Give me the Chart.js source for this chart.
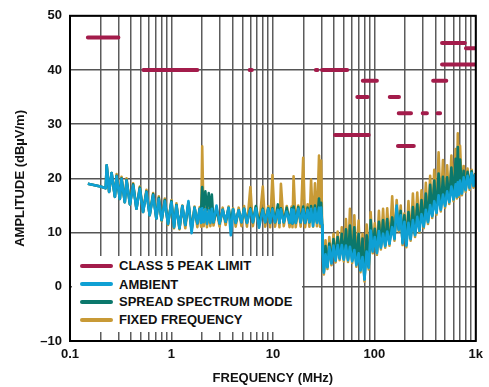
<!DOCTYPE html>
<html>
<head>
<meta charset="utf-8">
<script src="https://cdn.jsdelivr.net/npm/chart.js@4.4.1/dist/chart.umd.min.js"></script>
<style>
  html, body { margin: 0; padding: 0; background: #fff; }
  #wrap { position: relative; width: 489px; height: 387px; }
  #legend { position: absolute; left: 72px; top: 256px; width: 230px; height: 76px; background: #fff;
    font: bold 13px 'Liberation Sans', Arial, sans-serif; color: #111; }
  #legend div { position: absolute; left: 8px; height: 18px; line-height: 18px; white-space: nowrap; }
  #legend span { display: inline-block; width: 33px; height: 4px; border-radius: 2px;
    vertical-align: middle; margin-right: 6px; position: relative; top: -1px; }
</style>
</head>
<body>
<div id="wrap">
  <canvas id="emi_chart" width="489" height="387"></canvas>
  <div id="legend"></div>
</div>
<script>
// 주파수 (MHz)
const freq = [
  0.15, 0.18, 0.2, 0.225, 0.23, 0.243, 0.257, 0.277, 0.288, 0.31,
  0.322, 0.347, 0.361, 0.39, 0.419, 0.452, 0.488, 0.525, 0.567, 0.61,
  0.66, 0.71, 0.75, 0.8, 0.86, 0.925, 1.0, 1.06, 1.12, 1.2,
  1.28, 1.37, 1.47, 1.58, 1.69, 1.8, 1.9, 1.96, 2.01, 2.08,
  2.16, 2.24, 2.33, 2.42, 2.5, 2.6, 2.78, 2.98, 3.2, 3.42,
  3.66, 3.85, 4.05, 4.3, 4.6, 4.9, 5.2, 5.55, 6.0, 6.35,
  6.8, 7.3, 7.95, 8.4, 9.0, 9.4, 9.9, 10.5, 11.2, 11.6,
  12.0, 12.8, 13.7, 14.6, 15.3, 15.6, 16.0, 16.8, 17.8, 18.8,
  19.9, 20.8, 22.0, 22.9, 23.8, 24.9, 26.0, 27.2, 28.5, 29.2,
  29.9, 30.6, 31.0, 31.8, 33.0, 34.5, 36.0, 37.8, 39.6, 41.5,
  43.5, 45.5, 47.8, 50, 52.5, 55, 57.5, 60.5, 63.5, 66.5,
  70, 73, 76.5, 80, 84, 88, 92, 96.5, 101, 106,
  111, 116, 122, 128, 134, 141, 150, 158, 166, 174,
  182, 190, 198, 207, 217, 228, 240, 252, 265, 278,
  292, 307, 322, 338, 355, 372, 390, 410, 430, 452,
  475, 498, 522, 548, 575, 603, 633, 650, 665, 682,
  700, 730, 760, 795, 830, 870, 910, 950, 990
];

// AMBIENT (dBµV/m)
const ambient = [
  19.0, 18.7, 18.5, 18.2, 22.4, 17.5, 21.0, 16.6, 20.4, 16.2,
  19.9, 15.6, 19.6, 15.2, 18.7, 14.4, 18.1, 13.8, 17.5, 13.2,
  16.9, 12.6, 16.2, 12.3, 15.8, 11.6, 15.6, 11.0, 15.0, 10.8,
  14.9, 11.4, 15.8, 9.9, 14.6, 11.7, 14.4, 11.8, 14.5, 11.9,
  14.3, 11.6, 14.1, 11.8, 14.4, 11.9, 15.0, 11.7, 14.2, 12.0,
  14.6, 9.5, 14.3, 11.8, 14.1, 11.9, 14.4, 11.8, 14.3, 11.9,
  14.5, 10.9, 14.2, 11.9, 14.4, 11.8, 14.3, 11.9, 14.2, 11.8,
  14.3, 11.9, 13.9, 11.8, 14.3, 11.7, 14.2, 11.8, 14.4, 11.9,
  14.3, 11.8, 14.2, 11.9, 14.4, 11.2, 14.5, 11.8, 14.6, 11.7,
  14.6, 11.3, 6.0, 2.6, 6.0, 3.6, 7.4, 4.3, 7.6, 4.8,
  7.7, 5.2, 7.7, 5.0, 7.6, 4.9, 7.4, 4.7, 6.8, 4.0,
  6.2, 3.0, 5.5, 1.3, 6.5, 3.5, 10.4, 6.5, 9.2, 6.2,
  10.3, 7.2, 9.8, 7.5, 10.2, 7.9, 11.0, 8.8, 15.0, 10.5,
  13.2, 8.0, 12.0, 7.6, 11.8, 8.8, 12.3, 9.5, 12.9, 10.3,
  13.4, 11.1, 14.2, 11.9, 15.1, 13.0, 15.8, 13.6, 16.9, 14.2,
  17.0, 14.9, 17.6, 15.6, 18.5, 16.1, 18.9, 16.6, 19.3, 16.9,
  19.6, 17.2, 20.2, 17.8, 20.5, 18.2, 21.0, 18.6, 20.8
];

// SPREAD SPECTRUM MODE
const spread = [
  19.0, 18.7, 18.5, 18.2, 22.4, 17.5, 21.0, 16.6, 20.5, 16.2,
  20.0, 15.6, 19.7, 15.2, 18.9, 14.4, 18.3, 13.8, 17.6, 13.2,
  17.1, 12.6, 16.4, 12.3, 16.0, 11.6, 15.8, 11.0, 15.1, 10.8,
  14.9, 11.4, 15.4, 10.5, 14.6, 11.7, 14.4, 14.0, 18.4, 14.6,
  17.6, 14.2, 17.3, 14.0, 17.0, 11.9, 14.3, 11.7, 14.2, 12.0,
  14.5, 11.8, 14.3, 11.8, 14.1, 11.9, 14.4, 11.8, 14.5, 11.9,
  14.9, 11.7, 14.4, 11.9, 14.5, 11.8, 14.5, 11.9, 15.2, 11.8,
  14.5, 11.9, 14.6, 11.8, 14.5, 11.7, 14.8, 11.8, 14.7, 11.9,
  14.8, 11.8, 14.6, 11.9, 14.9, 11.9, 15.0, 12.0, 16.3, 12.5,
  15.5, 11.3, 7.0, 2.8, 7.5, 3.8, 8.0, 4.5, 8.8, 5.0,
  9.2, 5.4, 9.8, 5.2, 10.6, 5.1, 11.3, 4.9, 11.0, 4.2,
  9.8, 3.2, 8.9, 1.5, 9.5, 3.7, 12.3, 6.7, 10.7, 6.4,
  12.0, 7.4, 12.3, 7.7, 12.5, 8.1, 12.8, 9.0, 14.4, 10.7,
  14.0, 8.2, 13.2, 7.8, 13.8, 9.0, 14.7, 9.7, 15.2, 10.5,
  16.0, 11.3, 17.2, 12.1, 18.8, 13.2, 19.6, 13.8, 20.9, 14.4,
  20.3, 15.1, 20.2, 15.8, 22.0, 16.3, 23.6, 16.8, 25.8, 17.1,
  23.5, 17.4, 21.4, 18.0, 21.2, 18.4, 21.3, 18.8, 20.9
];

// FIXED FREQUENCY
const fixedFreq = [
  19.0, 18.7, 18.5, 18.2, 22.4, 17.5, 21.0, 16.6, 20.8, 16.2,
  20.3, 15.6, 20.0, 15.2, 19.1, 14.4, 18.5, 13.8, 17.9, 13.2,
  17.3, 12.6, 16.7, 12.1, 16.3, 11.4, 16.0, 10.8, 15.4, 10.6,
  15.0, 10.8, 15.6, 10.5, 14.8, 11.0, 14.7, 11.1, 25.9, 11.2,
  14.6, 11.0, 14.4, 11.2, 14.6, 11.3, 14.7, 11.1, 14.6, 11.4,
  14.8, 11.0, 14.5, 11.1, 14.6, 11.2, 14.9, 11.1, 18.4, 11.2,
  14.8, 11.0, 18.5, 11.1, 14.9, 11.0, 20.6, 11.1, 14.6, 11.0,
  19.0, 11.2, 14.9, 11.0, 14.8, 11.0, 20.4, 11.0, 15.0, 11.1,
  23.8, 11.0, 15.2, 11.1, 19.8, 11.1, 19.1, 11.2, 24.2, 11.1,
  23.3, 10.9, 8.0, 2.3, 8.6, 3.3, 9.2, 4.0, 9.8, 4.5,
  10.2, 4.9, 11.0, 4.7, 12.5, 4.6, 14.4, 4.4, 13.2, 3.7,
  12.2, 2.7, 9.8, 1.0, 11.5, 3.2, 13.8, 6.2, 11.7, 5.9,
  14.0, 6.9, 14.4, 7.2, 14.5, 7.6, 16.7, 8.5, 16.0, 10.2,
  15.0, 7.7, 13.5, 7.3, 15.8, 8.5, 17.2, 9.2, 17.4, 10.0,
  17.8, 10.8, 19.2, 11.6, 20.5, 12.7, 21.6, 13.3, 24.8, 13.9,
  23.4, 14.6, 22.4, 15.3, 24.2, 15.8, 25.4, 16.3, 28.3, 16.6,
  26.0, 16.9, 22.3, 17.5, 21.8, 17.9, 21.6, 18.3, 21.0
];

// CLASS 5 PEAK LIMIT 구간
const limitStart = [0.15, 0.53, 5.9, 26.5, 30.5, 41, 68, 77, 142, 174, 171, 300, 420, 380, 465, 465, 800];
const limitEnd   = [0.30, 1.8, 6.2, 27.5, 54, 88, 86, 106, 175, 230, 245, 330, 445, 512, 1000, 780, 1000];
const limitLevel = [46, 40, 40, 40, 40, 28, 35, 38, 35, 32, 26, 32, 32, 38, 41, 45, 44];

// 축 눈금
const xTickValues = [0.1, 1, 10, 100, 1000];
const xTickLabels = ['0.1', '1', '10', '100', '1k'];
const yMin = -10, yMax = 50, yStep = 10;

const seriesNames = ['CLASS 5 PEAK LIMIT', 'AMBIENT', 'SPREAD SPECTRUM MODE', 'FIXED FREQUENCY'];
const seriesColors = ['#a31c4b', '#0fa0d4', '#0b786c', '#c89a36'];

const FONT = "'Liberation Sans', Arial, sans-serif";

function toPoints(values) {
  return freq.map(function(f, i){ return {x: f, y: values[i]}; });
}

let limitPoints = [];
limitStart.forEach(function(s, i){
  limitPoints.push({x: s, y: limitLevel[i]});
  limitPoints.push({x: limitEnd[i], y: limitLevel[i]});
  limitPoints.push({x: limitEnd[i], y: null});
});

function traceSet(label, values, color, order){
  return {
    label: label,
    data: toPoints(values),
    borderColor: color,
    backgroundColor: color,
    borderWidth: 2.6,
    borderJoinStyle: 'round',
    pointRadius: 0,
    tension: 0,
    order: order
  };
}

// 테두리
const framePlugin = {
  id: 'frame',
  afterDatasetsDraw(chart){
    const {ctx, chartArea: a} = chart;
    ctx.save();
    ctx.strokeStyle = '#000';
    ctx.lineWidth = 2;
    ctx.strokeRect(a.left, a.top, a.right - a.left, a.bottom - a.top);
    ctx.restore();
  }
};

const emiChart = new Chart(document.getElementById('emi_chart'), {
  type: 'line',
  data: {
    datasets: [
      {
        label: seriesNames[0],
        data: limitPoints,
        borderColor: seriesColors[0],
        borderWidth: 4,
        borderCapStyle: 'round',
        pointRadius: 0,
        spanGaps: false,
        order: 0
      },
      traceSet(seriesNames[1], ambient, seriesColors[1], 1),
      traceSet(seriesNames[2], spread, seriesColors[2], 2),
      traceSet(seriesNames[3], fixedFreq, seriesColors[3], 3)
    ]
  },
  options: {
    responsive: false,
    animation: false,
    devicePixelRatio: 1,
    layout: { padding: { top: 15, right: 12, left: 0, bottom: 0 } },
    plugins: { legend: { display: false }, tooltip: { enabled: false } },
    scales: {
      x: {
        type: 'logarithmic',
        min: 0.1,
        max: 1000,
        afterBuildTicks: function(scale){
          let t = [];
          [0.1, 1, 10, 100].forEach(function(d){
            for (let m = 1; m < 10; m++) t.push({value: +(d * m).toPrecision(3)});
          });
          t.push({value: 1000});
          scale.ticks = t;
        },
        afterFit: function(scale){ scale.height = 46; },
        grid: { color: '#5c5c5c', lineWidth: 1.5, drawTicks: false },
        border: { display: false },
        ticks: {
          autoSkip: false,
          maxRotation: 0,
          padding: 6,
          color: '#111',
          font: { family: FONT, size: 13, weight: 'bold' },
          callback: function(v){
            const k = xTickValues.indexOf(v);
            return k >= 0 ? xTickLabels[k] : '';
          }
        },
        title: {
          display: true,
          text: 'FREQUENCY (MHz)',
          color: '#111',
          font: { family: FONT, size: 13, weight: 'bold' },
          padding: { top: 0, bottom: 1 }
        }
      },
      y: {
        min: yMin,
        max: yMax,
        afterFit: function(scale){ scale.width = 70; },
        grid: { color: '#555', lineWidth: 1.5, drawTicks: false },
        border: { display: false },
        ticks: {
          stepSize: yStep,
          padding: 8,
          color: '#111',
          font: { family: FONT, size: 13, weight: 'bold' },
          callback: function(v){ return v < 0 ? '\u2013' + Math.abs(v) : '' + v; }
        },
        title: {
          display: true,
          text: 'AMPLITUDE (dBµV/m)',
          color: '#111',
          font: { family: FONT, size: 13, weight: 'bold' },
          padding: { top: 13, bottom: 0 }
        }
      }
    }
  },
  plugins: [framePlugin]
});

// 범례
const legend = document.getElementById('legend');
const rowTops = [1, 19.7, 37.3, 55];
seriesNames.forEach(function(name, i){
  const row = document.createElement('div');
  row.style.top = rowTops[i] + 'px';
  row.innerHTML = '<span style="background:' + seriesColors[i] + '"></span>' + name;
  legend.appendChild(row);
});
</script>
</body>
</html>
